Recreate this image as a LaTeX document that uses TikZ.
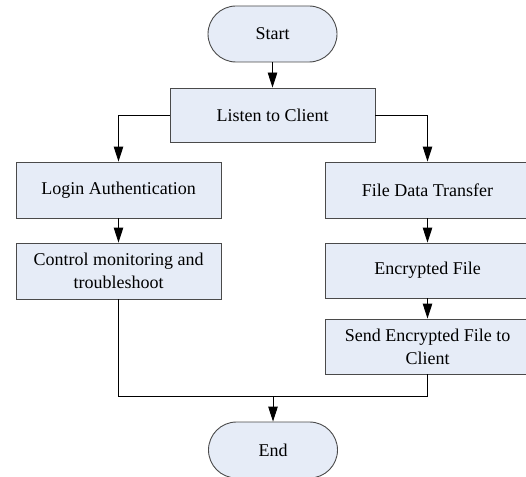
\documentclass[tikz,border=0pt]{standalone}
\usepackage{fontspec}
\setmainfont{Liberation Serif}
\usetikzlibrary{arrows.meta}
\definecolor{boxfill}{HTML}{E6ECF7}
\definecolor{boxline}{HTML}{4A4A4A}
\begin{document}
\begin{tikzpicture}[x=1pt,y=-1pt,
  box/.style={draw=boxline, fill=boxfill, line width=0.9pt, minimum width=205pt, minimum height=56pt, inner sep=0pt, align=center, font=\fontsize{18}{23}\selectfont},
  term/.style={box, minimum width=129pt, rounded corners=28pt},
  conn/.style={draw=black, line width=0.9pt},
  arr/.style={conn, -{Triangle[length=15pt,width=9.5pt]}}]
\useasboundingbox (0,0) rectangle (526,476);
\node[term] (start) at (272.5,34) {Start};
\node[box, minimum height=54pt] (listen) at (272.5,115) {Listen to Client};
\node[box] (login) at (118.5,190) {Login Authentication};
\node[box] (control) at (118.5,271) {Control monitoring and\\troubleshoot};
\node[box] (file) at (427.5,190) {File Data Transfer};
\node[box, minimum height=55pt] (enc) at (427.5,270.5) {Encrypted File};
\node[box, minimum height=55pt] (send) at (427.5,346.5) {Send Encrypted File to\\Client};
\node[term] (end) at (273,450) {End};
\coordinate (merge) at (273,396);
\draw[arr] (start) -- (listen);
\draw[arr] (listen.west) -| (login.north);
\draw[arr] (listen.east) -| (file.north);
\draw[arr] (login) -- (control);
\draw[arr] (file) -- (enc);
\draw[arr] (enc) -- (send);
\draw[conn] (control.south) |- (merge);
\draw[conn] (send.south) |- (merge);
\draw[arr] (merge) -- (end.north);
\end{tikzpicture}
\end{document}
